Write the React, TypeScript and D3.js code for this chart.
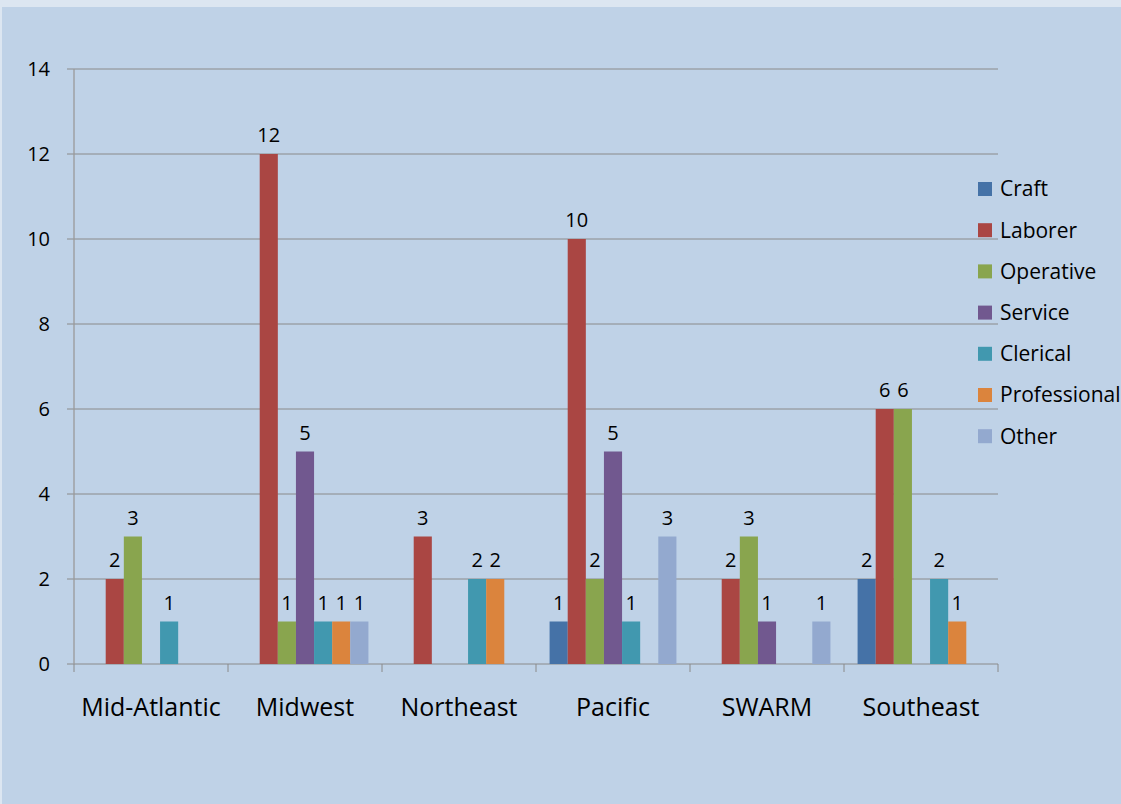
import React, { useEffect, useRef } from 'react';
import * as d3 from 'd3';

const regions = ['Mid-Atlantic', 'Midwest', 'Northeast', 'Pacific', 'SWARM', 'Southeast'];
const seriesNames = ['Craft', 'Laborer', 'Operative', 'Service', 'Clerical', 'Professional', 'Other'];
const seriesColors = ['#4572a7', '#aa4643', '#89a54e', '#71588f', '#4198af', '#db843d', '#93a9cf'];

const craft = [0, 0, 0, 1, 0, 2];
const laborer = [2, 12, 3, 10, 2, 6];
const operative = [3, 1, 0, 2, 3, 6];
const service = [0, 5, 0, 5, 1, 0];
const clerical = [1, 1, 2, 1, 0, 2];
const professional = [0, 1, 2, 0, 0, 1];
const other = [0, 1, 0, 3, 1, 0];
const yTicks = [0, 2, 4, 6, 8, 10, 12, 14];

const W = 1121;
const H = 804;
const FONT = '"Open Sans", "DejaVu Sans", sans-serif';

const App: React.FC = () => {
  const svgRef = useRef<SVGSVGElement>(null);

  useEffect(() => {
    if (!svgRef.current) return;
    const svg = d3.select(svgRef.current);
    svg.selectAll('*').remove();

    const series = [craft, laborer, operative, service, clerical, professional, other];
    const left = 74, right = 998, top = 69, bottom = 664;

    // background
    svg.append('rect').attr('width', W).attr('height', H).attr('fill', '#bfd2e7');
    svg.append('rect').attr('width', W).attr('height', 7).attr('fill', '#dce6f1');
    svg.append('rect').attr('width', 2).attr('height', H).attr('fill', '#dce6f1');

    const x0 = d3.scaleBand().domain(regions).range([left, right]).paddingInner(0).paddingOuter(0);
    const bw = x0.bandwidth() / (seriesNames.length + 1.5);
    const x1 = d3.scaleBand().domain(seriesNames)
      .range([bw * 0.75, x0.bandwidth() - bw * 0.75]).padding(0);
    const y = d3.scaleLinear().domain([0, 14]).range([bottom, top]);

    // gridlines
    svg.append('g').selectAll('line').data(yTicks).enter().append('line')
      .attr('x1', left - 7).attr('x2', right)
      .attr('y1', d => y(d)).attr('y2', d => y(d))
      .attr('stroke', '#8a8a8a').attr('stroke-width', 1);

    svg.append('g').selectAll('text').data(yTicks).enter().append('text')
      .attr('x', 50).attr('y', d => y(d)).attr('dy', '0.35em')
      .attr('text-anchor', 'end')
      .style('font-family', FONT).style('font-size', '20px').attr('fill', '#000')
      .text(d => d);

    // left axis line
    svg.append('line').attr('x1', left).attr('x2', left).attr('y1', top).attr('y2', bottom)
      .attr('stroke', '#9a9a9a').attr('stroke-width', 1.3);

    // category ticks
    const bounds = regions.map(r => x0(r) as number).concat([right]);
    svg.append('g').selectAll('line').data(bounds).enter().append('line')
      .attr('x1', d => d).attr('x2', d => d).attr('y1', bottom).attr('y2', bottom + 8)
      .attr('stroke', '#8a8a8a').attr('stroke-width', 1);

    // bars
    regions.forEach((r, ri) => {
      const g = svg.append('g').attr('transform', `translate(${x0(r)},0)`);
      seriesNames.forEach((s, si) => {
        const v = series[si][ri];
        if (!v) return;
        const bx = x1(s) as number;
        g.append('rect')
          .attr('x', bx).attr('y', y(v)).attr('width', x1.bandwidth()).attr('height', y(0) - y(v))
          .attr('fill', seriesColors[si]);
        g.append('text')
          .attr('x', bx + x1.bandwidth() / 2).attr('y', y(v) - 12)
          .attr('text-anchor', 'middle')
          .style('font-family', FONT).style('font-size', '20px').attr('fill', '#000')
          .text(v);
      });
    });

    // category labels
    svg.append('g').selectAll('text').data(regions).enter().append('text')
      .attr('x', d => (x0(d) as number) + x0.bandwidth() / 2).attr('y', 716)
      .attr('text-anchor', 'middle')
      .style('font-family', FONT).style('font-size', '25px').attr('fill', '#000')
      .text(d => d);

    // legend
    const lg = svg.append('g');
    seriesNames.forEach((s, i) => {
      const ly = 189 + i * 41.2;
      lg.append('rect').attr('x', 978).attr('y', ly - 7).attr('width', 14).attr('height', 14)
        .attr('fill', seriesColors[i]);
      lg.append('text').attr('x', 1000).attr('y', ly).attr('dy', '0.35em')
        .style('font-family', FONT).style('font-size', '21px').attr('fill', '#000')
        .text(s);
    });
  }, []);

  return (
    <div style={{ position: 'absolute', top: 0, left: 0 }}>
      <svg ref={svgRef} width={W} height={H} style={{ display: 'block' }} />
    </div>
  );
};

export default App;
